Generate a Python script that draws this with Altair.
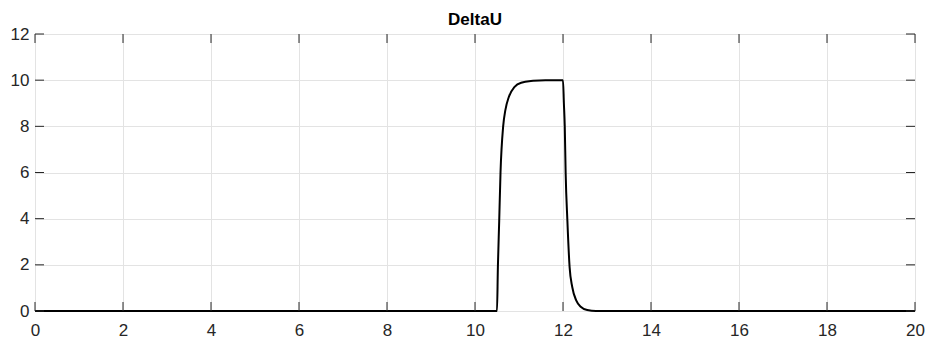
import altair as alt
import pandas as pd

# data
t = [0, 10.5, 10.52, 10.55, 10.58, 10.64, 10.69, 10.77, 10.9, 11.05, 11.32,
     11.6, 12.0, 12.02, 12.04, 12.06, 12.1, 12.15, 12.21, 12.3, 12.41,
     12.55, 12.75, 20]
du = [0, 0, 1.9, 3.9, 6.0, 8.0, 8.7, 9.28, 9.71, 9.89, 9.97,
      10, 10, 9.0, 8.0, 6.0, 3.9, 1.9, 1.04, 0.46, 0.17,
      0.04, 0, 0]
x_ticks = [0, 2, 4, 6, 8, 10, 12, 14, 16, 18, 20]
y_ticks = [0, 2, 4, 6, 8, 10, 12]

W, H = 880, 277
TL = 9
FONT = "Liberation Sans"
DARK = "#262626"

df = pd.DataFrame({"t": t, "du": du})
xt = pd.DataFrame({"v": x_ticks})
yt = pd.DataFrame({"v": y_ticks})

xs = alt.Scale(domain=[0, 20], nice=False, zero=False)
ys = alt.Scale(domain=[0, 12], nice=False, zero=False)

line = alt.Chart(df).mark_line(color="black", strokeWidth=2, strokeJoin="round",
                               interpolate="monotone").encode(
    x=alt.X("t:Q", scale=xs, title=None,
            axis=alt.Axis(values=x_ticks, grid=True, gridColor="#e3e3e3", domain=False,
                          ticks=False, labelPadding=11, labelFont=FONT, labelFontSize=17,
                          labelColor=DARK, labelFlush=False)),
    y=alt.Y("du:Q", scale=ys, title=None,
            axis=alt.Axis(values=y_ticks, grid=True, gridColor="#e3e3e3", domain=False,
                          ticks=False, labelPadding=6, labelFont=FONT, labelFontSize=17,
                          labelColor=DARK, labelFlush=False)),
)

xb = alt.Chart(xt).mark_rule(color=DARK, strokeWidth=1).encode(
    x=alt.X("v:Q", scale=xs), y=alt.value(H), y2=alt.value(H - TL))
xtop = alt.Chart(xt).mark_rule(color=DARK, strokeWidth=1).encode(
    x=alt.X("v:Q", scale=xs), y=alt.value(0), y2=alt.value(TL))
yl = alt.Chart(yt).mark_rule(color=DARK, strokeWidth=1).encode(
    y=alt.Y("v:Q", scale=ys), x=alt.value(0), x2=alt.value(TL))
yr = alt.Chart(yt).mark_rule(color=DARK, strokeWidth=1).encode(
    y=alt.Y("v:Q", scale=ys), x=alt.value(W - TL), x2=alt.value(W))

chart = alt.layer(line, xb, xtop, yl, yr).properties(
    width=W, height=H,
    title=alt.TitleParams("DeltaU", font=FONT, fontSize=17, fontWeight="bold",
                          color="black", anchor="middle", offset=0, dy=4),
    autosize=alt.AutoSizeParams(type="none"),
    padding={"left": 35, "top": 34, "right": 13, "bottom": 31},
).configure_view(stroke=DARK, strokeWidth=1).configure(background="white")

chart.save("out.html", embed_options={"renderer": "svg", "actions": False})
